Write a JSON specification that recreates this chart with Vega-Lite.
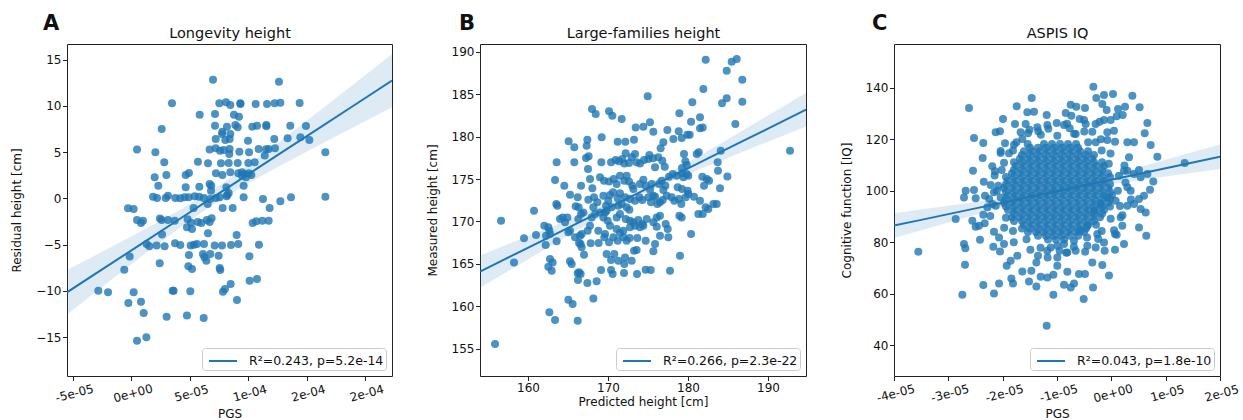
{
"$schema": "https://vega.github.io/schema/vega-lite/v6.json",
"padding": {"left": 10, "top": 12, "right": 5, "bottom": 2},
"bounds": "flush",
"spacing": 88,
"config": {
  "font": "DejaVu Sans",
  "view": {"stroke": "#222", "strokeWidth": 1},
  "axis": {"grid": false, "domain": false, "tickColor": "#222", "tickSize": 4.5, "tickWidth": 1, "labelFont": "DejaVu Sans", "labelFontSize": 12, "labelColor": "#111", "labelPadding": 1.5, "titleFont": "DejaVu Sans", "titleFontSize": 12, "titleFontWeight": "normal", "titleColor": "#111"},
  "axisY": {"titlePadding": 12},
  "axisX": {"titlePadding": 3},
  "legend": {"orient": "bottom-right", "offset": 6.5, "fillColor": "white", "strokeColor": "#ccc", "cornerRadius": 3, "padding": 2, "labelFontSize": 12.5, "labelFont": "DejaVu Sans", "labelColor": "#111", "symbolStrokeWidth": 2, "symbolSize": 400, "labelOffset": 15, "symbolOffset": 8},
  "title": {"font": "DejaVu Sans", "color": "#111"}
},
"datasets": {
"ptsA": [
{"x":6.99e-5,"y":12.84},{"x":12.63e-5,"y":12.63},{"x":3.48e-5,"y":10.28},{"x":7.53e-5,"y":10.28},{"x":8.10e-5,"y":10.39},{"x":8.47e-5,"y":10.10},{"x":9.33e-5,"y":10.28},{"x":9.33e-5,"y":10.21},{"x":10.64e-5,"y":10.21},{"x":11.61e-5,"y":10.21},{"x":12.26e-5,"y":10.28},{"x":12.75e-5,"y":10.36},{"x":14.40e-5,"y":10.32},{"x":5.85e-5,"y":9.06},{"x":7.16e-5,"y":9.13},{"x":8.78e-5,"y":9.06},{"x":9.21e-5,"y":8.84},{"x":2.60e-5,"y":7.51},{"x":7.16e-5,"y":7.87},{"x":8.18e-5,"y":7.76},{"x":8.90e-5,"y":7.94},{"x":9.10e-5,"y":7.69},{"x":10.35e-5,"y":7.76},{"x":10.75e-5,"y":7.87},{"x":11.55e-5,"y":7.94},{"x":11.55e-5,"y":7.80},{"x":13.60e-5,"y":7.87},{"x":14.94e-5,"y":7.83},{"x":7.79e-5,"y":7.22},{"x":7.76e-5,"y":6.97},{"x":8.47e-5,"y":6.97},{"x":7.22e-5,"y":6.43},{"x":8.04e-5,"y":6.32},{"x":8.41e-5,"y":6.43},{"x":9.98e-5,"y":6.25},{"x":12.23e-5,"y":6.43},{"x":13.37e-5,"y":6.50},{"x":14.46e-5,"y":6.61},{"x":15.23e-5,"y":6.32},{"x":0.49e-5,"y":5.28},{"x":2.06e-5,"y":4.99},{"x":6.70e-5,"y":5.28},{"x":7.22e-5,"y":5.42},{"x":7.59e-5,"y":5.17},{"x":7.90e-5,"y":5.24},{"x":8.41e-5,"y":5.35},{"x":9.24e-5,"y":5.06},{"x":10.07e-5,"y":4.99},{"x":10.89e-5,"y":5.35},{"x":11.52e-5,"y":5.31},{"x":11.75e-5,"y":5.35},{"x":12.29e-5,"y":5.42},{"x":16.60e-5,"y":4.99},{"x":11.41e-5,"y":4.63},{"x":8.38e-5,"y":4.81},{"x":2.82e-5,"y":3.91},{"x":5.70e-5,"y":3.98},{"x":6.56e-5,"y":3.80},{"x":7.67e-5,"y":3.80},{"x":8.33e-5,"y":3.83},{"x":9.10e-5,"y":3.83},{"x":10.01e-5,"y":3.83},{"x":10.55e-5,"y":3.91},{"x":2.00e-5,"y":2.28},{"x":3.00e-5,"y":2.54},{"x":4.65e-5,"y":2.54},{"x":4.93e-5,"y":2.75},{"x":7.24e-5,"y":2.72},{"x":7.79e-5,"y":2.54},{"x":8.47e-5,"y":2.82},{"x":9.15e-5,"y":2.72},{"x":9.47e-5,"y":2.82},{"x":9.72e-5,"y":2.64},{"x":10.07e-5,"y":2.72},{"x":10.27e-5,"y":2.54},{"x":9.81e-5,"y":2.28},{"x":9.47e-5,"y":2.46},{"x":2.31e-5,"y":1.38},{"x":4.65e-5,"y":1.20},{"x":5.82e-5,"y":1.27},{"x":6.70e-5,"y":1.56},{"x":6.84e-5,"y":1.38},{"x":8.33e-5,"y":0.59},{"x":9.61e-5,"y":1.38},{"x":8.13e-5,"y":1.20},{"x":6.82e-5,"y":0.84},{"x":1.86e-5,"y":0.19},{"x":2.20e-5,"y":0.05},{"x":2.94e-5,"y":0.05},{"x":3.14e-5,"y":0.30},{"x":3.77e-5,"y":0.05},{"x":4.19e-5,"y":0.01},{"x":4.56e-5,"y":0.12},{"x":4.91e-5,"y":0.12},{"x":5.42e-5,"y":0.23},{"x":5.79e-5,"y":0.19},{"x":6.19e-5,"y":0.05},{"x":6.76e-5,"y":-0.06},{"x":7.24e-5,"y":0.05},{"x":7.56e-5,"y":0.12},{"x":8.16e-5,"y":0.23},{"x":8.21e-5,"y":0.41},{"x":9.61e-5,"y":0.12},{"x":11.26e-5,"y":-0.06},{"x":12.75e-5,"y":-0.31},{"x":13.66e-5,"y":0.12},{"x":16.60e-5,"y":0.19},{"x":5.33e-5,"y":-1.03},{"x":6.53e-5,"y":-0.60},{"x":7.81e-5,"y":-1.03},{"x":8.67e-5,"y":-1.03},{"x":11.83e-5,"y":-1.03},{"x":-0.28e-5,"y":-1.07},{"x":0.20e-5,"y":-1.14},{"x":0.49e-5,"y":-2.33},{"x":0.83e-5,"y":-2.65},{"x":1.00e-5,"y":-2.40},{"x":2.45e-5,"y":-2.18},{"x":2.60e-5,"y":-2.33},{"x":3.14e-5,"y":-2.33},{"x":3.71e-5,"y":-2.40},{"x":4.82e-5,"y":-2.26},{"x":5.11e-5,"y":-2.62},{"x":5.68e-5,"y":-2.55},{"x":5.99e-5,"y":-2.65},{"x":6.47e-5,"y":-2.33},{"x":6.70e-5,"y":-2.55},{"x":6.87e-5,"y":-2.15},{"x":10.38e-5,"y":-2.65},{"x":10.69e-5,"y":-2.47},{"x":11.21e-5,"y":-2.40},{"x":11.75e-5,"y":-2.40},{"x":4.76e-5,"y":-3.12},{"x":5.19e-5,"y":-3.30},{"x":6.56e-5,"y":-3.77},{"x":9.01e-5,"y":-3.95},{"x":2.63e-5,"y":-3.91},{"x":1.31e-5,"y":-4.92},{"x":1.54e-5,"y":-5.18},{"x":2.17e-5,"y":-5.10},{"x":2.85e-5,"y":-5.18},{"x":3.74e-5,"y":-4.85},{"x":4.19e-5,"y":-5.03},{"x":5.08e-5,"y":-5.10},{"x":5.36e-5,"y":-5.00},{"x":5.62e-5,"y":-4.92},{"x":6.22e-5,"y":-4.92},{"x":7.13e-5,"y":-5.10},{"x":7.76e-5,"y":-5.10},{"x":8.53e-5,"y":-5.03},{"x":9.15e-5,"y":-4.92},{"x":10.92e-5,"y":-5.00},{"x":-0.14e-5,"y":-6.29},{"x":4.93e-5,"y":-6.11},{"x":6.13e-5,"y":-6.01},{"x":6.42e-5,"y":-6.73},{"x":6.76e-5,"y":-6.01},{"x":7.47e-5,"y":-6.19},{"x":10.10e-5,"y":-6.26},{"x":6.25e-5,"y":-6.37},{"x":-0.60e-5,"y":-7.70},{"x":2.43e-5,"y":-7.01},{"x":4.88e-5,"y":-7.34},{"x":5.19e-5,"y":-7.63},{"x":7.56e-5,"y":-7.52},{"x":7.61e-5,"y":-7.74},{"x":8.50e-5,"y":-9.25},{"x":10.12e-5,"y":-8.89},{"x":10.75e-5,"y":-8.71},{"x":7.84e-5,"y":-10.08},{"x":8.01e-5,"y":-9.79},{"x":-2.82e-5,"y":-9.97},{"x":-1.99e-5,"y":-10.15},{"x":0.20e-5,"y":-10.15},{"x":3.54e-5,"y":-9.97},{"x":3.62e-5,"y":-9.97},{"x":5.05e-5,"y":-10.04},{"x":9.04e-5,"y":-10.98},{"x":-0.25e-5,"y":-11.30},{"x":0.83e-5,"y":-11.16},{"x":1.06e-5,"y":-12.38},{"x":3.02e-5,"y":-12.78},{"x":4.76e-5,"y":-12.67},{"x":6.19e-5,"y":-12.93},{"x":0.49e-5,"y":-15.38},{"x":1.29e-5,"y":-15.02}
],
"bandA": [
{"x":-5.5e-5,"fit":-10.15,"lo":-12.55,"hi":-7.75},{"x":-2e-5,"fit":-7.27,"lo":-9.09,"hi":-5.45},{"x":1e-5,"fit":-4.80,"lo":-6.15,"hi":-3.45},{"x":4e-5,"fit":-2.33,"lo":-3.30,"hi":-1.36},{"x":7e-5,"fit":0.14,"lo":-0.66,"hi":0.94},{"x":10e-5,"fit":2.61,"lo":1.64,"hi":3.58},{"x":13e-5,"fit":5.08,"lo":3.73,"hi":6.43},{"x":16e-5,"fit":7.55,"lo":5.73,"hi":9.37},{"x":19e-5,"fit":10.02,"lo":7.71,"hi":12.33},{"x":22.3e-5,"fit":12.74,"lo":9.86,"hi":15.62}
],
"ptsB": [
{"x":182.21,"y":189.05},{"x":185.46,"y":188.82},{"x":186.09,"y":189.13},{"x":184.84,"y":187.76},{"x":186.79,"y":186.70},{"x":181.92,"y":185.60},{"x":174.96,"y":184.74},{"x":184.84,"y":184.50},{"x":184.25,"y":183.91},{"x":186.79,"y":184.11},{"x":180.54,"y":184.03},{"x":168.00,"y":183.24},{"x":168.46,"y":182.66},{"x":170.13,"y":182.97},{"x":170.54,"y":182.46},{"x":171.71,"y":182.07},{"x":178.92,"y":182.73},{"x":181.50,"y":182.26},{"x":180.38,"y":181.75},{"x":185.92,"y":181.48},{"x":175.25,"y":181.67},{"x":174.42,"y":181.16},{"x":173.46,"y":181.08},{"x":175.67,"y":180.57},{"x":177.42,"y":180.77},{"x":178.84,"y":180.61},{"x":181.50,"y":180.97},{"x":181.84,"y":181.08},{"x":179.92,"y":180.22},{"x":178.17,"y":179.71},{"x":176.92,"y":179.32},{"x":173.25,"y":179.63},{"x":172.17,"y":179.40},{"x":171.21,"y":179.40},{"x":169.21,"y":179.91},{"x":167.42,"y":179.63},{"x":167.33,"y":178.93},{"x":165.08,"y":179.44},{"x":165.79,"y":178.73},{"x":176.58,"y":178.61},{"x":179.21,"y":179.83},{"x":180.21,"y":180.22},{"x":172.21,"y":178.02},{"x":173.38,"y":177.94},{"x":173.58,"y":176.96},{"x":174.50,"y":177.24},{"x":175.04,"y":177.36},{"x":175.17,"y":177.83},{"x":175.63,"y":177.43},{"x":176.29,"y":177.55},{"x":176.79,"y":177.16},{"x":179.50,"y":177.94},{"x":181.09,"y":177.94},{"x":181.34,"y":178.14},{"x":179.67,"y":177.08},{"x":179.84,"y":176.65},{"x":184.09,"y":178.34},{"x":192.75,"y":178.34},{"x":163.58,"y":176.96},{"x":165.79,"y":176.96},{"x":167.25,"y":177.47},{"x":167.58,"y":177.67},{"x":167.50,"y":176.18},{"x":169.17,"y":176.96},{"x":170.38,"y":176.96},{"x":170.96,"y":177.24},{"x":171.38,"y":177.08},{"x":171.79,"y":177.36},{"x":172.04,"y":176.84},{"x":172.63,"y":176.88},{"x":172.96,"y":177.55},{"x":174.00,"y":176.84},{"x":175.88,"y":176.37},{"x":177.09,"y":176.45},{"x":179.25,"y":176.30},{"x":183.71,"y":176.96},{"x":183.75,"y":175.98},{"x":163.38,"y":174.88},{"x":164.54,"y":174.21},{"x":166.63,"y":174.21},{"x":167.75,"y":175.00},{"x":168.04,"y":173.90},{"x":169.00,"y":175.20},{"x":169.50,"y":174.80},{"x":170.13,"y":174.72},{"x":170.71,"y":175.00},{"x":171.08,"y":174.41},{"x":171.50,"y":175.39},{"x":172.04,"y":174.80},{"x":172.33,"y":175.39},{"x":172.63,"y":174.72},{"x":173.04,"y":174.21},{"x":173.17,"y":173.82},{"x":174.00,"y":174.41},{"x":174.42,"y":174.92},{"x":174.71,"y":174.21},{"x":175.25,"y":173.74},{"x":175.46,"y":174.41},{"x":175.67,"y":173.04},{"x":176.38,"y":174.41},{"x":176.71,"y":174.80},{"x":176.92,"y":173.70},{"x":177.17,"y":174.21},{"x":177.63,"y":175.27},{"x":178.09,"y":175.59},{"x":178.59,"y":175.39},{"x":179.25,"y":175.67},{"x":179.42,"y":175.20},{"x":179.84,"y":175.59},{"x":180.04,"y":175.39},{"x":179.25,"y":173.82},{"x":179.96,"y":173.63},{"x":178.71,"y":174.02},{"x":181.79,"y":175.27},{"x":182.34,"y":175.00},{"x":182.63,"y":174.80},{"x":182.00,"y":174.21},{"x":184.00,"y":173.90},{"x":184.92,"y":175.31},{"x":165.25,"y":173.15},{"x":166.21,"y":172.84},{"x":167.54,"y":172.57},{"x":168.25,"y":172.84},{"x":168.67,"y":172.25},{"x":169.42,"y":173.04},{"x":170.04,"y":172.45},{"x":170.25,"y":173.12},{"x":170.63,"y":173.43},{"x":171.21,"y":172.72},{"x":171.50,"y":173.31},{"x":171.71,"y":172.06},{"x":172.13,"y":172.84},{"x":172.75,"y":172.64},{"x":173.38,"y":172.45},{"x":173.92,"y":172.84},{"x":174.29,"y":172.53},{"x":175.04,"y":172.84},{"x":175.38,"y":172.25},{"x":175.88,"y":172.92},{"x":176.17,"y":172.06},{"x":176.50,"y":172.25},{"x":176.84,"y":172.53},{"x":177.34,"y":173.04},{"x":177.96,"y":172.84},{"x":178.29,"y":172.45},{"x":178.88,"y":172.64},{"x":179.17,"y":172.06},{"x":179.71,"y":172.84},{"x":180.04,"y":173.23},{"x":180.75,"y":172.92},{"x":181.50,"y":172.45},{"x":182.21,"y":171.66},{"x":183.17,"y":172.06},{"x":183.59,"y":172.06},{"x":163.54,"y":172.06},{"x":163.67,"y":171.86},{"x":165.96,"y":171.78},{"x":166.33,"y":171.66},{"x":168.17,"y":171.66},{"x":169.75,"y":171.86},{"x":170.46,"y":171.66},{"x":171.29,"y":171.86},{"x":172.33,"y":171.66},{"x":172.67,"y":171.39},{"x":160.75,"y":171.27},{"x":162.04,"y":169.50},{"x":162.54,"y":169.31},{"x":164.00,"y":170.29},{"x":164.33,"y":170.48},{"x":164.63,"y":169.90},{"x":164.92,"y":170.48},{"x":166.29,"y":170.29},{"x":166.63,"y":170.88},{"x":166.92,"y":171.07},{"x":167.96,"y":170.48},{"x":168.38,"y":170.88},{"x":169.00,"y":171.07},{"x":169.42,"y":170.48},{"x":169.96,"y":170.09},{"x":171.08,"y":170.48},{"x":171.50,"y":170.88},{"x":172.21,"y":170.29},{"x":172.75,"y":170.09},{"x":173.17,"y":169.90},{"x":173.79,"y":170.17},{"x":174.29,"y":169.70},{"x":174.84,"y":170.29},{"x":175.67,"y":169.90},{"x":176.09,"y":170.48},{"x":176.50,"y":170.68},{"x":177.21,"y":169.70},{"x":177.46,"y":169.11},{"x":178.92,"y":170.68},{"x":179.21,"y":170.48},{"x":181.29,"y":170.88},{"x":181.84,"y":170.88},{"x":182.54,"y":171.47},{"x":169.83,"y":171.27},{"x":169.63,"y":171.07},{"x":156.63,"y":170.09},{"x":159.50,"y":168.01},{"x":161.00,"y":168.40},{"x":162.25,"y":168.33},{"x":162.67,"y":168.91},{"x":162.75,"y":168.52},{"x":162.21,"y":167.23},{"x":163.58,"y":167.66},{"x":165.04,"y":168.72},{"x":165.25,"y":168.91},{"x":165.88,"y":168.13},{"x":166.50,"y":168.33},{"x":166.71,"y":168.52},{"x":167.46,"y":168.91},{"x":167.75,"y":169.50},{"x":168.79,"y":168.91},{"x":169.63,"y":168.52},{"x":170.25,"y":169.50},{"x":171.08,"y":169.11},{"x":171.50,"y":168.64},{"x":171.92,"y":168.91},{"x":172.75,"y":169.31},{"x":173.38,"y":169.50},{"x":174.00,"y":169.31},{"x":174.42,"y":169.50},{"x":176.09,"y":169.39},{"x":176.50,"y":168.33},{"x":180.38,"y":168.52},{"x":166.38,"y":167.46},{"x":166.58,"y":167.34},{"x":166.71,"y":166.95},{"x":167.83,"y":167.42},{"x":168.83,"y":167.46},{"x":169.54,"y":168.13},{"x":170.13,"y":167.54},{"x":170.67,"y":168.13},{"x":171.21,"y":167.74},{"x":171.92,"y":168.13},{"x":172.33,"y":167.74},{"x":172.71,"y":168.05},{"x":173.67,"y":168.05},{"x":174.71,"y":167.74},{"x":175.88,"y":167.34},{"x":177.54,"y":168.13},{"x":167.00,"y":166.09},{"x":169.83,"y":166.17},{"x":170.38,"y":165.46},{"x":170.79,"y":166.17},{"x":171.29,"y":165.38},{"x":172.04,"y":164.99},{"x":172.13,"y":165.77},{"x":172.96,"y":165.38},{"x":173.25,"y":166.56},{"x":173.58,"y":166.64},{"x":175.67,"y":166.48},{"x":179.00,"y":165.97},{"x":162.75,"y":165.58},{"x":163.08,"y":165.18},{"x":162.54,"y":164.67},{"x":162.96,"y":164.20},{"x":165.25,"y":165.30},{"x":165.46,"y":164.99},{"x":166.21,"y":163.89},{"x":166.38,"y":164.01},{"x":166.58,"y":163.81},{"x":169.13,"y":164.28},{"x":170.38,"y":164.28},{"x":170.58,"y":163.81},{"x":172.00,"y":163.93},{"x":173.63,"y":163.81},{"x":174.71,"y":164.32},{"x":175.34,"y":164.28},{"x":177.75,"y":164.20},{"x":158.25,"y":165.18},{"x":166.25,"y":163.10},{"x":167.42,"y":162.75},{"x":168.58,"y":162.95},{"x":165.04,"y":160.79},{"x":165.58,"y":160.28},{"x":168.17,"y":160.94},{"x":162.67,"y":159.30},{"x":163.38,"y":158.39},{"x":166.21,"y":158.31},{"x":155.88,"y":155.57}
],
"bandB": [
{"x":154,"fit":164.10,"lo":162.20,"hi":166.00},{"x":158,"fit":165.97,"lo":164.43,"hi":167.51},{"x":162,"fit":167.84,"lo":166.66,"hi":169.02},{"x":166,"fit":169.71,"lo":168.87,"hi":170.55},{"x":170,"fit":171.58,"lo":171.03,"hi":172.13},{"x":174,"fit":173.45,"lo":173.05,"hi":173.85},{"x":178,"fit":175.32,"lo":174.77,"hi":175.87},{"x":182,"fit":177.20,"lo":176.36,"hi":178.04},{"x":186,"fit":179.07,"lo":177.89,"hi":180.25},{"x":190,"fit":180.94,"lo":179.40,"hi":182.48},{"x":194.75,"fit":183.16,"lo":181.19,"hi":185.13}
],
"ptsC": [
{"x":-0.331e-5,"y":140.51},{"x":-1.466e-5,"y":136.10},{"x":-0.276e-5,"y":136.10},{"x":-0.135e-5,"y":137.27},{"x":0.031e-5,"y":137.66},{"x":0.387e-5,"y":137.01},{"x":-2.620e-5,"y":132.22},{"x":-1.742e-5,"y":132.86},{"x":-0.748e-5,"y":133.51},{"x":-0.644e-5,"y":132.74},{"x":-0.485e-5,"y":132.22},{"x":-0.166e-5,"y":133.77},{"x":-0.086e-5,"y":131.44},{"x":0.123e-5,"y":131.83},{"x":0.252e-5,"y":132.74},{"x":0.521e-5,"y":132.48},{"x":-1.546e-5,"y":130.53},{"x":-1.423e-5,"y":130.79},{"x":-1.190e-5,"y":129.50},{"x":-0.840e-5,"y":130.27},{"x":-0.736e-5,"y":129.24},{"x":-0.583e-5,"y":127.94},{"x":-0.503e-5,"y":127.55},{"x":-0.215e-5,"y":126.90},{"x":-0.135e-5,"y":127.55},{"x":-0.012e-5,"y":127.55},{"x":0.098e-5,"y":128.98},{"x":0.209e-5,"y":129.50},{"x":-1.994e-5,"y":127.94},{"x":-1.773e-5,"y":125.99},{"x":-1.577e-5,"y":125.99},{"x":-1.362e-5,"y":124.70},{"x":-1.178e-5,"y":125.61},{"x":-1.006e-5,"y":126.38},{"x":-0.871e-5,"y":125.61},{"x":-0.767e-5,"y":124.31},{"x":-0.472e-5,"y":125.99},{"x":-0.288e-5,"y":125.99},{"x":0.663e-5,"y":126.38},{"x":-0.074e-5,"y":122.76},{"x":0.049e-5,"y":123.40},{"x":-2.049e-5,"y":123.14},{"x":-2.129e-5,"y":122.76},{"x":-1.669e-5,"y":122.76},{"x":-1.534e-5,"y":122.37},{"x":-1.344e-5,"y":123.14},{"x":-2.528e-5,"y":120.55},{"x":-2.356e-5,"y":118.61},{"x":-1.957e-5,"y":118.48},{"x":-1.791e-5,"y":117.96},{"x":-1.638e-5,"y":120.16},{"x":-0.656e-5,"y":122.11},{"x":-0.350e-5,"y":123.02},{"x":-0.288e-5,"y":118.87},{"x":-0.074e-5,"y":119.78},{"x":0.068e-5,"y":119.13},{"x":0.295e-5,"y":118.87},{"x":0.417e-5,"y":118.87},{"x":0.614e-5,"y":122.37},{"x":0.724e-5,"y":117.83},{"x":0.847e-5,"y":113.30},{"x":-2.368e-5,"y":112.78},{"x":-2.037e-5,"y":114.72},{"x":-1.883e-5,"y":114.59},{"x":-2.546e-5,"y":107.85},{"x":-2.141e-5,"y":107.59},{"x":-2.018e-5,"y":108.11},{"x":0.325e-5,"y":113.04},{"x":0.295e-5,"y":107.85},{"x":0.509e-5,"y":108.11},{"x":0.773e-5,"y":103.70},{"x":0.712e-5,"y":100.46},{"x":1.350e-5,"y":110.83},{"x":0.663e-5,"y":106.56},{"x":0.417e-5,"y":106.56},{"x":0.233e-5,"y":107.85},{"x":0.540e-5,"y":105.26},{"x":-2.681e-5,"y":100.08},{"x":-2.528e-5,"y":100.34},{"x":-2.712e-5,"y":97.48},{"x":-2.497e-5,"y":97.10},{"x":-2.325e-5,"y":98.13},{"x":-2.221e-5,"y":102.28},{"x":-2.160e-5,"y":99.43},{"x":-2.080e-5,"y":102.02},{"x":-2.037e-5,"y":97.48},{"x":-2.865e-5,"y":89.06},{"x":-2.558e-5,"y":88.41},{"x":-2.436e-5,"y":86.47},{"x":-2.497e-5,"y":86.08},{"x":-2.356e-5,"y":90.74},{"x":-2.282e-5,"y":93.60},{"x":-2.190e-5,"y":94.89},{"x":-2.331e-5,"y":87.38},{"x":-2.417e-5,"y":81.02},{"x":-2.160e-5,"y":84.14},{"x":-2.067e-5,"y":81.93},{"x":-2.712e-5,"y":79.34},{"x":-2.687e-5,"y":77.66},{"x":-2.172e-5,"y":78.30},{"x":-2.049e-5,"y":76.49},{"x":-1.975e-5,"y":79.34},{"x":-3.552e-5,"y":76.36},{"x":-2.693e-5,"y":71.30},{"x":-1.926e-5,"y":70.92},{"x":-1.853e-5,"y":72.86},{"x":-1.730e-5,"y":74.80},{"x":-2.356e-5,"y":63.40},{"x":-2.067e-5,"y":64.05},{"x":-2.742e-5,"y":59.64},{"x":-2.160e-5,"y":60.16},{"x":-1.840e-5,"y":65.99},{"x":-1.810e-5,"y":64.05},{"x":-1.638e-5,"y":68.71},{"x":-1.515e-5,"y":64.82},{"x":-1.380e-5,"y":62.88},{"x":-1.472e-5,"y":68.97},{"x":-1.301e-5,"y":66.64},{"x":-1.178e-5,"y":66.38},{"x":-1.067e-5,"y":67.42},{"x":-1.067e-5,"y":59.64},{"x":-0.871e-5,"y":63.53},{"x":-0.748e-5,"y":62.49},{"x":-0.687e-5,"y":64.05},{"x":-0.595e-5,"y":67.68},{"x":-0.485e-5,"y":67.68},{"x":-0.509e-5,"y":57.96},{"x":-0.337e-5,"y":62.49},{"x":-0.043e-5,"y":67.16},{"x":-0.350e-5,"y":72.21},{"x":-0.166e-5,"y":71.18},{"x":-0.810e-5,"y":68.58},{"x":-0.994e-5,"y":70.92},{"x":-1.190e-5,"y":47.59},{"x":-1.350e-5,"y":74.80},{"x":0.509e-5,"y":85.82},{"x":0.644e-5,"y":82.58},{"x":0.068e-5,"y":83.23},{"x":0.098e-5,"y":82.97},{"x":0.233e-5,"y":79.34},{"x":-0.258e-5,"y":83.23},{"x":-0.135e-5,"y":79.99},{"x":-0.123e-5,"y":76.75},{"x":0.068e-5,"y":77.14},{"x":-0.442e-5,"y":78.69},{"x":-0.288e-5,"y":78.04},{"x":-0.656e-5,"y":76.75},{"x":-0.810e-5,"y":76.10},{"x":-0.951e-5,"y":76.75},{"x":-1.178e-5,"y":76.75},{"x":-1.380e-5,"y":72.21},{"x":0.632e-5,"y":91.65},{"x":0.540e-5,"y":92.95},{"x":0.417e-5,"y":94.89},{"x":0.295e-5,"y":94.24},{"x":0.172e-5,"y":89.71},{"x":0.202e-5,"y":86.47},{"x":0.601e-5,"y":98.13},{"x":0.509e-5,"y":96.84},{"x":0.356e-5,"y":100.08},{"x":0.295e-5,"y":101.37},{"x":0.080e-5,"y":96.19},{"x":-0.074e-5,"y":97.48},{"x":-0.196e-5,"y":94.89},{"x":-0.319e-5,"y":92.30},{"x":-0.442e-5,"y":86.47},{"x":-0.564e-5,"y":84.52},{"x":-0.687e-5,"y":80.64},{"x":-0.871e-5,"y":79.34},{"x":-0.994e-5,"y":74.16},{"x":-1.117e-5,"y":78.04},
{"x":0.120e-5,"y":100.08},{"x":0.141e-5,"y":105.92},{"x":-0.047e-5,"y":110.57},{"x":-0.178e-5,"y":115.74},{"x":-0.427e-5,"y":118.93},{"x":-0.685e-5,"y":122.24},{"x":-0.994e-5,"y":121.46},{"x":-1.298e-5,"y":121.86},{"x":-1.540e-5,"y":118.26},{"x":-1.810e-5,"y":115.74},{"x":-1.975e-5,"y":110.96},{"x":-2.148e-5,"y":106.01},{"x":-2.107e-5,"y":100.08},{"x":-2.128e-5,"y":94.23},{"x":-1.940e-5,"y":89.58},{"x":-1.810e-5,"y":84.41},{"x":-1.561e-5,"y":81.22},{"x":-1.303e-5,"y":77.91},{"x":-0.994e-5,"y":78.69},{"x":-0.690e-5,"y":78.29},{"x":-0.447e-5,"y":81.89},{"x":-0.178e-5,"y":84.41},{"x":-0.012e-5,"y":89.19},{"x":0.160e-5,"y":94.14},
{"x":0.260e-5,"y":103.26},{"x":0.241e-5,"y":109.90},{"x":-0.015e-5,"y":114.51},{"x":-0.193e-5,"y":120.11},{"x":-0.498e-5,"y":123.07},{"x":-0.815e-5,"y":126.09},{"x":-1.159e-5,"y":124.16},{"x":-1.506e-5,"y":123.78},{"x":-1.746e-5,"y":118.88},{"x":-2.037e-5,"y":115.47},{"x":-2.191e-5,"y":109.60},{"x":-2.348e-5,"y":103.51},{"x":-2.248e-5,"y":96.89},{"x":-2.228e-5,"y":90.25},{"x":-1.973e-5,"y":85.64},{"x":-1.795e-5,"y":80.04},{"x":-1.490e-5,"y":77.09},{"x":-1.173e-5,"y":74.07},{"x":-0.828e-5,"y":75.99},{"x":-0.482e-5,"y":76.37},{"x":-0.242e-5,"y":81.27},{"x":0.050e-5,"y":84.68},{"x":0.204e-5,"y":90.55},{"x":0.361e-5,"y":96.64},
{"x":-1.239e-5,"y":118.22},{"x":-1.092e-5,"y":118.22},{"x":-0.945e-5,"y":118.22},{"x":-0.798e-5,"y":118.22},{"x":-0.650e-5,"y":118.22},
{"x":-1.607e-5,"y":115.37},{"x":-1.460e-5,"y":115.37},{"x":-1.313e-5,"y":115.37},{"x":-1.166e-5,"y":115.37},{"x":-1.018e-5,"y":115.37},{"x":-0.871e-5,"y":115.37},{"x":-0.724e-5,"y":115.37},{"x":-0.577e-5,"y":115.37},{"x":-0.429e-5,"y":115.37},
{"x":-1.681e-5,"y":112.52},{"x":-1.534e-5,"y":112.52},{"x":-1.386e-5,"y":112.52},{"x":-1.239e-5,"y":112.52},{"x":-1.092e-5,"y":112.52},{"x":-0.945e-5,"y":112.52},{"x":-0.798e-5,"y":112.52},{"x":-0.650e-5,"y":112.52},{"x":-0.503e-5,"y":112.52},{"x":-0.356e-5,"y":112.52},
{"x":-1.755e-5,"y":109.67},{"x":-1.607e-5,"y":109.67},{"x":-1.460e-5,"y":109.67},{"x":-1.313e-5,"y":109.67},{"x":-1.166e-5,"y":109.67},{"x":-1.018e-5,"y":109.67},{"x":-0.871e-5,"y":109.67},{"x":-0.724e-5,"y":109.67},{"x":-0.577e-5,"y":109.67},{"x":-0.429e-5,"y":109.67},{"x":-0.282e-5,"y":109.67},{"x":-0.135e-5,"y":109.67},
{"x":-1.828e-5,"y":106.82},{"x":-1.681e-5,"y":106.82},{"x":-1.534e-5,"y":106.82},{"x":-1.386e-5,"y":106.82},{"x":-1.239e-5,"y":106.82},{"x":-1.092e-5,"y":106.82},{"x":-0.945e-5,"y":106.82},{"x":-0.798e-5,"y":106.82},{"x":-0.650e-5,"y":106.82},{"x":-0.503e-5,"y":106.82},{"x":-0.356e-5,"y":106.82},{"x":-0.209e-5,"y":106.82},{"x":-0.061e-5,"y":106.82},
{"x":-1.902e-5,"y":103.96},{"x":-1.755e-5,"y":103.96},{"x":-1.607e-5,"y":103.96},{"x":-1.460e-5,"y":103.96},{"x":-1.313e-5,"y":103.96},{"x":-1.166e-5,"y":103.96},{"x":-1.018e-5,"y":103.96},{"x":-0.871e-5,"y":103.96},{"x":-0.724e-5,"y":103.96},{"x":-0.577e-5,"y":103.96},{"x":-0.429e-5,"y":103.96},{"x":-0.282e-5,"y":103.96},{"x":-0.135e-5,"y":103.96},
{"x":-1.975e-5,"y":101.11},{"x":-1.828e-5,"y":101.11},{"x":-1.681e-5,"y":101.11},{"x":-1.534e-5,"y":101.11},{"x":-1.386e-5,"y":101.11},{"x":-1.239e-5,"y":101.11},{"x":-1.092e-5,"y":101.11},{"x":-0.945e-5,"y":101.11},{"x":-0.798e-5,"y":101.11},{"x":-0.650e-5,"y":101.11},{"x":-0.503e-5,"y":101.11},{"x":-0.356e-5,"y":101.11},{"x":-0.209e-5,"y":101.11},{"x":-0.061e-5,"y":101.11},
{"x":-1.902e-5,"y":98.26},{"x":-1.755e-5,"y":98.26},{"x":-1.607e-5,"y":98.26},{"x":-1.460e-5,"y":98.26},{"x":-1.313e-5,"y":98.26},{"x":-1.166e-5,"y":98.26},{"x":-1.018e-5,"y":98.26},{"x":-0.871e-5,"y":98.26},{"x":-0.724e-5,"y":98.26},{"x":-0.577e-5,"y":98.26},{"x":-0.429e-5,"y":98.26},{"x":-0.282e-5,"y":98.26},{"x":-0.135e-5,"y":98.26},{"x":0.012e-5,"y":98.26},
{"x":-1.975e-5,"y":95.41},{"x":-1.828e-5,"y":95.41},{"x":-1.681e-5,"y":95.41},{"x":-1.534e-5,"y":95.41},{"x":-1.386e-5,"y":95.41},{"x":-1.239e-5,"y":95.41},{"x":-1.092e-5,"y":95.41},{"x":-0.945e-5,"y":95.41},{"x":-0.798e-5,"y":95.41},{"x":-0.650e-5,"y":95.41},{"x":-0.503e-5,"y":95.41},{"x":-0.356e-5,"y":95.41},{"x":-0.209e-5,"y":95.41},{"x":-0.061e-5,"y":95.41},
{"x":-1.902e-5,"y":92.56},{"x":-1.755e-5,"y":92.56},{"x":-1.607e-5,"y":92.56},{"x":-1.460e-5,"y":92.56},{"x":-1.313e-5,"y":92.56},{"x":-1.166e-5,"y":92.56},{"x":-1.018e-5,"y":92.56},{"x":-0.871e-5,"y":92.56},{"x":-0.724e-5,"y":92.56},{"x":-0.577e-5,"y":92.56},{"x":-0.429e-5,"y":92.56},{"x":-0.282e-5,"y":92.56},{"x":-0.135e-5,"y":92.56},
{"x":-1.828e-5,"y":89.71},{"x":-1.681e-5,"y":89.71},{"x":-1.534e-5,"y":89.71},{"x":-1.386e-5,"y":89.71},{"x":-1.239e-5,"y":89.71},{"x":-1.092e-5,"y":89.71},{"x":-0.945e-5,"y":89.71},{"x":-0.798e-5,"y":89.71},{"x":-0.650e-5,"y":89.71},{"x":-0.503e-5,"y":89.71},{"x":-0.356e-5,"y":89.71},{"x":-0.209e-5,"y":89.71},
{"x":-1.607e-5,"y":86.86},{"x":-1.460e-5,"y":86.86},{"x":-1.313e-5,"y":86.86},{"x":-1.166e-5,"y":86.86},{"x":-1.018e-5,"y":86.86},{"x":-0.871e-5,"y":86.86},{"x":-0.724e-5,"y":86.86},{"x":-0.577e-5,"y":86.86},{"x":-0.429e-5,"y":86.86},{"x":-0.282e-5,"y":86.86},
{"x":-1.534e-5,"y":84.01},{"x":-1.386e-5,"y":84.01},{"x":-1.239e-5,"y":84.01},{"x":-1.092e-5,"y":84.01},{"x":-0.945e-5,"y":84.01},{"x":-0.798e-5,"y":84.01},{"x":-0.650e-5,"y":84.01},{"x":-0.503e-5,"y":84.01},
{"x":-1.166e-5,"y":81.15},{"x":-1.018e-5,"y":81.15},{"x":-0.871e-5,"y":81.15},
{"x":-1.497e-5,"y":116.79},{"x":-1.350e-5,"y":116.79},{"x":-1.202e-5,"y":116.79},{"x":-1.055e-5,"y":116.79},{"x":-0.908e-5,"y":116.79},{"x":-0.761e-5,"y":116.79},{"x":-0.613e-5,"y":116.79},
{"x":-1.644e-5,"y":113.94},{"x":-1.497e-5,"y":113.94},{"x":-1.350e-5,"y":113.94},{"x":-1.202e-5,"y":113.94},{"x":-1.055e-5,"y":113.94},{"x":-0.908e-5,"y":113.94},{"x":-0.761e-5,"y":113.94},{"x":-0.613e-5,"y":113.94},{"x":-0.466e-5,"y":113.94},{"x":-0.319e-5,"y":113.94},
{"x":-1.791e-5,"y":111.09},{"x":-1.644e-5,"y":111.09},{"x":-1.497e-5,"y":111.09},{"x":-1.350e-5,"y":111.09},{"x":-1.202e-5,"y":111.09},{"x":-1.055e-5,"y":111.09},{"x":-0.908e-5,"y":111.09},{"x":-0.761e-5,"y":111.09},{"x":-0.613e-5,"y":111.09},{"x":-0.466e-5,"y":111.09},{"x":-0.319e-5,"y":111.09},{"x":-0.172e-5,"y":111.09},
{"x":-1.791e-5,"y":108.24},{"x":-1.644e-5,"y":108.24},{"x":-1.497e-5,"y":108.24},{"x":-1.350e-5,"y":108.24},{"x":-1.202e-5,"y":108.24},{"x":-1.055e-5,"y":108.24},{"x":-0.908e-5,"y":108.24},{"x":-0.761e-5,"y":108.24},{"x":-0.613e-5,"y":108.24},{"x":-0.466e-5,"y":108.24},{"x":-0.319e-5,"y":108.24},{"x":-0.172e-5,"y":108.24},
{"x":-1.939e-5,"y":105.39},{"x":-1.791e-5,"y":105.39},{"x":-1.644e-5,"y":105.39},{"x":-1.497e-5,"y":105.39},{"x":-1.350e-5,"y":105.39},{"x":-1.202e-5,"y":105.39},{"x":-1.055e-5,"y":105.39},{"x":-0.908e-5,"y":105.39},{"x":-0.761e-5,"y":105.39},{"x":-0.613e-5,"y":105.39},{"x":-0.466e-5,"y":105.39},{"x":-0.319e-5,"y":105.39},{"x":-0.172e-5,"y":105.39},{"x":-0.025e-5,"y":105.39},
{"x":-1.939e-5,"y":102.54},{"x":-1.791e-5,"y":102.54},{"x":-1.644e-5,"y":102.54},{"x":-1.497e-5,"y":102.54},{"x":-1.350e-5,"y":102.54},{"x":-1.202e-5,"y":102.54},{"x":-1.055e-5,"y":102.54},{"x":-0.908e-5,"y":102.54},{"x":-0.761e-5,"y":102.54},{"x":-0.613e-5,"y":102.54},{"x":-0.466e-5,"y":102.54},{"x":-0.319e-5,"y":102.54},{"x":-0.172e-5,"y":102.54},{"x":-0.025e-5,"y":102.54},
{"x":-1.939e-5,"y":99.69},{"x":-1.791e-5,"y":99.69},{"x":-1.644e-5,"y":99.69},{"x":-1.497e-5,"y":99.69},{"x":-1.350e-5,"y":99.69},{"x":-1.202e-5,"y":99.69},{"x":-1.055e-5,"y":99.69},{"x":-0.908e-5,"y":99.69},{"x":-0.761e-5,"y":99.69},{"x":-0.613e-5,"y":99.69},{"x":-0.466e-5,"y":99.69},{"x":-0.319e-5,"y":99.69},{"x":-0.172e-5,"y":99.69},{"x":-0.025e-5,"y":99.69},
{"x":-1.939e-5,"y":96.84},{"x":-1.791e-5,"y":96.84},{"x":-1.644e-5,"y":96.84},{"x":-1.497e-5,"y":96.84},{"x":-1.350e-5,"y":96.84},{"x":-1.202e-5,"y":96.84},{"x":-1.055e-5,"y":96.84},{"x":-0.908e-5,"y":96.84},{"x":-0.761e-5,"y":96.84},{"x":-0.613e-5,"y":96.84},{"x":-0.466e-5,"y":96.84},{"x":-0.319e-5,"y":96.84},{"x":-0.172e-5,"y":96.84},{"x":-0.025e-5,"y":96.84},
{"x":-1.939e-5,"y":93.98},{"x":-1.791e-5,"y":93.98},{"x":-1.644e-5,"y":93.98},{"x":-1.497e-5,"y":93.98},{"x":-1.350e-5,"y":93.98},{"x":-1.202e-5,"y":93.98},{"x":-1.055e-5,"y":93.98},{"x":-0.908e-5,"y":93.98},{"x":-0.761e-5,"y":93.98},{"x":-0.613e-5,"y":93.98},{"x":-0.466e-5,"y":93.98},{"x":-0.319e-5,"y":93.98},{"x":-0.172e-5,"y":93.98},{"x":-0.025e-5,"y":93.98},
{"x":-1.791e-5,"y":91.13},{"x":-1.644e-5,"y":91.13},{"x":-1.497e-5,"y":91.13},{"x":-1.350e-5,"y":91.13},{"x":-1.202e-5,"y":91.13},{"x":-1.055e-5,"y":91.13},{"x":-0.908e-5,"y":91.13},{"x":-0.761e-5,"y":91.13},{"x":-0.613e-5,"y":91.13},{"x":-0.466e-5,"y":91.13},{"x":-0.319e-5,"y":91.13},{"x":-0.172e-5,"y":91.13},
{"x":-1.791e-5,"y":88.28},{"x":-1.644e-5,"y":88.28},{"x":-1.497e-5,"y":88.28},{"x":-1.350e-5,"y":88.28},{"x":-1.202e-5,"y":88.28},{"x":-1.055e-5,"y":88.28},{"x":-0.908e-5,"y":88.28},{"x":-0.761e-5,"y":88.28},{"x":-0.613e-5,"y":88.28},{"x":-0.466e-5,"y":88.28},{"x":-0.319e-5,"y":88.28},
{"x":-1.644e-5,"y":85.43},{"x":-1.497e-5,"y":85.43},{"x":-1.350e-5,"y":85.43},{"x":-1.202e-5,"y":85.43},{"x":-1.055e-5,"y":85.43},{"x":-0.908e-5,"y":85.43},{"x":-0.761e-5,"y":85.43},{"x":-0.613e-5,"y":85.43},{"x":-0.466e-5,"y":85.43},
{"x":-1.350e-5,"y":82.58},{"x":-1.202e-5,"y":82.58},{"x":-1.055e-5,"y":82.58},{"x":-0.908e-5,"y":82.58},{"x":-0.761e-5,"y":82.58},{"x":-0.613e-5,"y":82.58}
],
"bandC": [
{"x":-4e-5,"fit":86.50,"lo":81.72,"hi":91.28},{"x":-3.5e-5,"fit":88.73,"lo":84.72,"hi":92.74},{"x":-3e-5,"fit":90.97,"lo":87.73,"hi":94.21},{"x":-2.5e-5,"fit":93.20,"lo":90.71,"hi":95.69},{"x":-2e-5,"fit":95.43,"lo":93.67,"hi":97.19},{"x":-1.5e-5,"fit":97.67,"lo":96.55,"hi":98.79},{"x":-1e-5,"fit":99.90,"lo":99.10,"hi":100.70},{"x":-0.5e-5,"fit":102.13,"lo":101.01,"hi":103.25},{"x":0,"fit":104.37,"lo":102.61,"hi":106.13},{"x":0.5e-5,"fit":106.60,"lo":104.11,"hi":109.09},{"x":1e-5,"fit":108.83,"lo":105.59,"hi":112.07},{"x":1.5e-5,"fit":111.07,"lo":107.06,"hi":115.08},{"x":2e-5,"fit":113.30,"lo":108.52,"hi":118.08}
]
},
"hconcat": [
{
 "width": 325, "height": 332,
 "title": {"text": "A", "anchor": "start", "frame": "group", "dx": -24, "dy": 9, "fontSize": 21, "fontWeight": "bold", "offset": 0},
 "layer": [
  {"data": {"name": "ptsA"}, "mark": {"type": "circle", "size": 64, "opacity": 0.8, "color": "#1f77b4", "clip": true},
   "encoding": {
    "x": {"field": "x", "type": "quantitative", "scale": {"domain": [-5.5e-5, 2.23e-4], "nice": false, "zero": false},
          "axis": {"title": "PGS", "values": [-5e-5, 0, 5e-5, 1e-4, 1.5e-4, 2e-4], "labelExpr": "datum.value < -1e-6 ? '-5e-05' : datum.value < 1e-6 ? '0e+00' : datum.value < 6e-5 ? '5e-05' : datum.value < 1.1e-4 ? '1e-04' : '2e-04'", "labelAngle": -15, "labelAlign": "center", "labelBaseline": "top", "labelPadding": 7.5, "titlePadding": 5}},
    "y": {"field": "y", "type": "quantitative", "scale": {"domain": [-19.2, 16.7], "nice": false, "zero": false},
          "axis": {"title": "Residual height [cm]", "values": [-15, -10, -5, 0, 5, 10, 15], "labelExpr": "replace(datum.label, '-', '−')"}}
   }},
  {"data": {"name": "bandA"}, "mark": {"type": "area", "color": "#1f77b4", "opacity": 0.15, "clip": true},
   "encoding": {
    "x": {"field": "x", "type": "quantitative", "scale": {"domain": [-5.5e-5, 2.23e-4], "nice": false, "zero": false}, "axis": null},
    "y": {"field": "lo", "type": "quantitative", "scale": {"domain": [-19.2, 16.7], "nice": false, "zero": false},
          "axis": {"title": "Residual height [cm]", "values": [-15, -10, -5, 0, 5, 10, 15], "labelExpr": "replace(datum.label, '-', '−')"}},
    "y2": {"field": "hi"}
   }},
  {"data": {"name": "bandA"}, "mark": {"type": "line", "strokeWidth": 2, "clip": true},
   "encoding": {
    "x": {"field": "x", "type": "quantitative", "scale": {"domain": [-5.5e-5, 2.23e-4], "nice": false, "zero": false},
          "axis": {"orient": "top", "title": "Longevity height", "labels": false, "ticks": false, "domain": false, "titleFontSize": 14.5, "titlePadding": 4}},
    "y": {"field": "fit", "type": "quantitative", "scale": {"domain": [-19.2, 16.7], "nice": false, "zero": false},
          "axis": {"title": "Residual height [cm]", "values": [-15, -10, -5, 0, 5, 10, 15], "labelExpr": "replace(datum.label, '-', '−')"}},
    "color": {"datum": "R²=0.243, p=5.2e-14", "type": "nominal", "scale": {"range": ["#1f77b4"]}, "legend": {"title": null, "symbolType": "M-1.4,0H1.4"}}
   }}
 ],
 "resolve": {"axis": {"x": "independent"}}
},
{
 "width": 326, "height": 332,
 "title": {"text": "B", "anchor": "start", "frame": "group", "dx": -21, "dy": 9, "fontSize": 21, "fontWeight": "bold", "offset": 0},
 "layer": [
  {"data": {"name": "ptsB"}, "mark": {"type": "circle", "size": 64, "opacity": 0.8, "color": "#1f77b4", "clip": true},
   "encoding": {
    "x": {"field": "x", "type": "quantitative", "scale": {"domain": [154.0, 194.75], "nice": false, "zero": false},
          "axis": {"title": "Predicted height [cm]", "values": [160, 170, 180, 190]}},
    "y": {"field": "y", "type": "quantitative", "scale": {"domain": [151.8, 190.9], "nice": false, "zero": false},
          "axis": {"title": "Measured height [cm]", "values": [155, 160, 165, 170, 175, 180, 185, 190]}}
   }},
  {"data": {"name": "bandB"}, "mark": {"type": "area", "color": "#1f77b4", "opacity": 0.15, "clip": true},
   "encoding": {
    "x": {"field": "x", "type": "quantitative", "scale": {"domain": [154.0, 194.75], "nice": false, "zero": false}, "axis": null},
    "y": {"field": "lo", "type": "quantitative", "scale": {"domain": [151.8, 190.9], "nice": false, "zero": false},
          "axis": {"title": "Measured height [cm]", "values": [155, 160, 165, 170, 175, 180, 185, 190]}},
    "y2": {"field": "hi"}
   }},
  {"data": {"name": "bandB"}, "mark": {"type": "line", "strokeWidth": 2, "clip": true},
   "encoding": {
    "x": {"field": "x", "type": "quantitative", "scale": {"domain": [154.0, 194.75], "nice": false, "zero": false},
          "axis": {"orient": "top", "title": "Large-families height", "labels": false, "ticks": false, "domain": false, "titleFontSize": 14.5, "titlePadding": 4}},
    "y": {"field": "fit", "type": "quantitative", "scale": {"domain": [151.8, 190.9], "nice": false, "zero": false},
          "axis": {"title": "Measured height [cm]", "values": [155, 160, 165, 170, 175, 180, 185, 190]}},
    "color": {"datum": "R²=0.266, p=2.3e-22", "type": "nominal", "scale": {"range": ["#1f77b4"]}, "legend": {"title": null, "symbolType": "M-1.4,0H1.4"}}
   }}
 ],
 "resolve": {"axis": {"x": "independent"}}
},
{
 "width": 326, "height": 332,
 "title": {"text": "C", "anchor": "start", "frame": "group", "dx": -22, "dy": 9, "fontSize": 21, "fontWeight": "bold", "offset": 0},
 "layer": [
  {"data": {"name": "ptsC"}, "mark": {"type": "circle", "size": 64, "opacity": 0.8, "color": "#1f77b4", "clip": true},
   "encoding": {
    "x": {"field": "x", "type": "quantitative", "scale": {"domain": [-4e-5, 2e-5], "nice": false, "zero": false},
          "axis": {"title": "PGS", "values": [-4e-5, -3e-5, -2e-5, -1e-5, 0, 1e-5, 2e-5], "labelExpr": "datum.value < -3.5e-5 ? '-4e-05' : datum.value < -2.5e-5 ? '-3e-05' : datum.value < -1.5e-5 ? '-2e-05' : datum.value < -0.5e-5 ? '-1e-05' : datum.value < 0.5e-5 ? '0e+00' : datum.value < 1.5e-5 ? '1e-05' : '2e-05'", "labelAngle": -15, "labelAlign": "center", "labelBaseline": "top", "labelPadding": 7.5, "titlePadding": 5}},
    "y": {"field": "y", "type": "quantitative", "scale": {"domain": [28.05, 157.1], "nice": false, "zero": false},
          "axis": {"title": "Cognitive function [IQ]", "values": [40, 60, 80, 100, 120, 140]}}
   }},
  {"data": {"name": "bandC"}, "mark": {"type": "area", "color": "#1f77b4", "opacity": 0.15, "clip": true},
   "encoding": {
    "x": {"field": "x", "type": "quantitative", "scale": {"domain": [-4e-5, 2e-5], "nice": false, "zero": false}, "axis": null},
    "y": {"field": "lo", "type": "quantitative", "scale": {"domain": [28.05, 157.1], "nice": false, "zero": false},
          "axis": {"title": "Cognitive function [IQ]", "values": [40, 60, 80, 100, 120, 140]}},
    "y2": {"field": "hi"}
   }},
  {"data": {"name": "bandC"}, "mark": {"type": "line", "strokeWidth": 2, "clip": true},
   "encoding": {
    "x": {"field": "x", "type": "quantitative", "scale": {"domain": [-4e-5, 2e-5], "nice": false, "zero": false},
          "axis": {"orient": "top", "title": "ASPIS IQ", "labels": false, "ticks": false, "domain": false, "titleFontSize": 14.5, "titlePadding": 4}},
    "y": {"field": "fit", "type": "quantitative", "scale": {"domain": [28.05, 157.1], "nice": false, "zero": false},
          "axis": {"title": "Cognitive function [IQ]", "values": [40, 60, 80, 100, 120, 140]}},
    "color": {"datum": "R²=0.043, p=1.8e-10", "type": "nominal", "scale": {"range": ["#1f77b4"]}, "legend": {"title": null, "symbolType": "M-1.4,0H1.4"}}
   }}
 ],
 "resolve": {"axis": {"x": "independent"}}
}
],
"resolve": {"scale": {"color": "independent"}, "legend": {"color": "independent"}}
}
